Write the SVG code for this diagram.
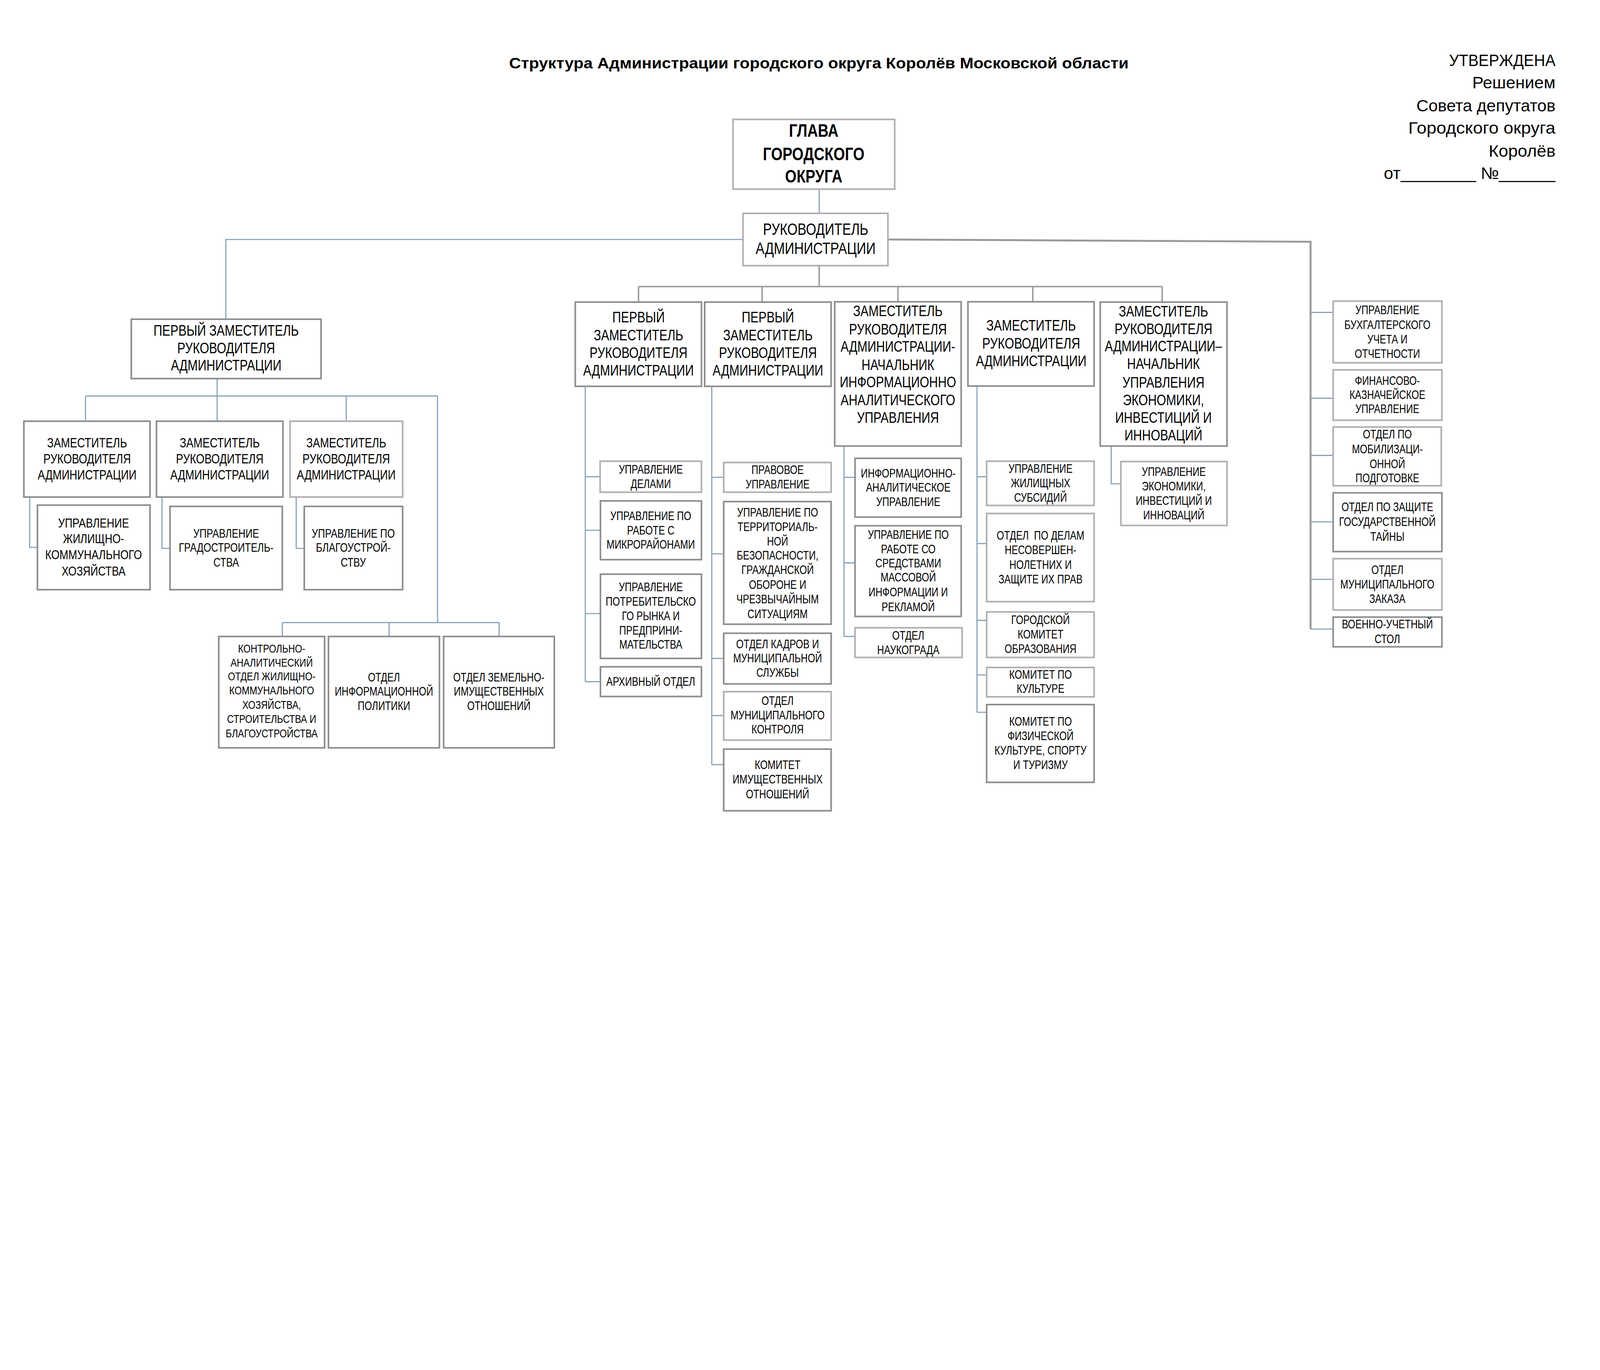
<svg xmlns="http://www.w3.org/2000/svg" width="4959" height="3506" viewBox="0 0 4959 3506" preserveAspectRatio="xMidYMin meet">
<style>
svg{width:100vw;height:100vh;display:block}
.bg{fill:#ffffff}
.bx{fill:#ffffff;stroke:#8e8e8e;stroke-width:5}
.bl{fill:#ffffff;stroke:#b3aeb1;stroke-width:5}
.c{fill:none;stroke:#87a0b9;stroke-width:3.5}
.g{fill:none;stroke:#9a9a9a;stroke-width:4.5}
.gt{fill:none;stroke:#9a9a9a;stroke-width:6}
text{font-family:"Liberation Sans",Arial,sans-serif;fill:#000000}
.t{text-anchor:middle}
.hd{font-weight:bold}
.appr{text-anchor:end;font-size:52px}
.f57{font-size:57px}
.f51{font-size:51px}
.f47{font-size:47px}
.f42{font-size:42px}
.f41{font-size:41px}
.f38{font-size:38px}
.f37{font-size:37px}
.f36{font-size:36px}
</style>
<rect class="bg" x="0" y="0" width="4959" height="3506"/>

<g id="header">
<text class="t hd" x="2538" y="212" font-size="47" textLength="1920" lengthAdjust="spacingAndGlyphs">Структура Администрации городского округа Королёв Московской области</text>
<text class="appr" x="4821" y="205" textLength="330" lengthAdjust="spacingAndGlyphs">УТВЕРЖДЕНА</text>
<text class="appr" x="4821" y="274" textLength="258" lengthAdjust="spacingAndGlyphs">Решением</text>
<text class="appr" x="4821" y="345" textLength="431" lengthAdjust="spacingAndGlyphs">Совета депутатов</text>
<text class="appr" x="4821" y="414" textLength="456" lengthAdjust="spacingAndGlyphs">Городского округа</text>
<text class="appr" x="4821" y="485" textLength="207" lengthAdjust="spacingAndGlyphs">Королёв</text>
<text class="appr" x="4821" y="554" textLength="532" lengthAdjust="spacingAndGlyphs">от________ №______</text>
</g>

<g id="connectors">
<path class="c" d="M2539 586V661"/>
<path class="c" d="M2303 742H700V989"/>
<path class="c" d="M673 1173V1227M265 1227H1356M265 1227V1305M673 1227V1305M1073 1227V1305M1356 1227V1929"/>
<path class="c" d="M92 1540V1696H116M502 1540V1699H527M918 1540V1699H943"/>
<path class="c" d="M875 1929H1547M875 1929V1972M1206 1929V1972M1547 1929V1972"/>
<path class="c" d="M1814 1197V2112M1814 1477H1860M1814 1643H1861M1814 1901H1861M1814 2112H1861"/>
<path class="c" d="M2206 1197V2369M2206 1479H2243M2206 1716H2243M2206 2040H2243M2206 2217H2243M2206 2369H2243"/>
<path class="c" d="M2616 1382V1972M2616 1479H2650M2616 1744H2650M2616 1972H2650"/>
<path class="c" d="M3028 1196V2207M3028 1477H3058M3028 1684H3058M3028 1922H3058M3028 2091H3058M3028 2207H3058"/>
<path class="c" d="M3444 1382V1499H3474"/>
<path class="c" d="M4062 968H4132M4062 1234H4132M4062 1411H4132M4062 1617H4132M4062 1795H4132M4062 1949H4132"/>
<path class="g" d="M2539 823V888M1979 888H3602M1979 888V936M2362 888V936M2783 888V935M3201 888V935M3602 888V936"/>
<path class="gt" d="M2752 742L4062 749V1949"/>
</g>

<g id="n-glava">
<rect class="bl" x="2272" y="370" width="501" height="216"/>
<text class="t hd f57" transform="matrix(0.8 0 0 1 504.4 0)"><tspan x="2522" y="424">ГЛАВА</tspan><tspan x="2522" y="496">ГОРОДСКОГО</tspan><tspan x="2522" y="565">ОКРУГА</tspan></text>
</g>

<g id="n-rukovoditel">
<rect class="bl" x="2303" y="661" width="449" height="162"/>
<text class="t f51" transform="matrix(0.8 0 0 1 505.6 0)"><tspan x="2528" y="728">РУКОВОДИТЕЛЬ</tspan><tspan x="2528" y="787">АДМИНИСТРАЦИИ</tspan></text>
</g>

<g id="n-perv-left">
<rect class="bx" x="407" y="989" width="588" height="184"/>
<text class="t f47" transform="matrix(0.8 0 0 1 140.2 0)"><tspan x="701" y="1040">ПЕРВЫЙ ЗАМЕСТИТЕЛЬ</tspan><tspan x="701" y="1094">РУКОВОДИТЕЛЯ</tspan><tspan x="701" y="1148">АДМИНИСТРАЦИИ</tspan></text>
</g>

<g id="n-zam-a">
<rect class="bx" x="74" y="1305" width="391" height="235"/>
<text class="t f42" transform="matrix(0.8 0 0 1 54 0)"><tspan x="270" y="1386">ЗАМЕСТИТЕЛЬ</tspan><tspan x="270" y="1436">РУКОВОДИТЕЛЯ</tspan><tspan x="270" y="1486">АДМИНИСТРАЦИИ</tspan></text>
</g>
<g id="n-zam-b">
<rect class="bx" x="485" y="1305" width="392" height="235"/>
<text class="t f42" transform="matrix(0.8 0 0 1 136.2 0)"><tspan x="681" y="1386">ЗАМЕСТИТЕЛЬ</tspan><tspan x="681" y="1436">РУКОВОДИТЕЛЯ</tspan><tspan x="681" y="1486">АДМИНИСТРАЦИИ</tspan></text>
</g>
<g id="n-zam-c">
<rect class="bl" x="899" y="1305" width="349" height="235"/>
<text class="t f42" transform="matrix(0.8 0 0 1 214.6 0)"><tspan x="1073" y="1386">ЗАМЕСТИТЕЛЬ</tspan><tspan x="1073" y="1436">РУКОВОДИТЕЛЯ</tspan><tspan x="1073" y="1486">АДМИНИСТРАЦИИ</tspan></text>
</g>

<g id="n-zhkh">
<rect class="bx" x="116" y="1565" width="349" height="262"/>
<text class="t f41" transform="matrix(0.8 0 0 1 58 0)"><tspan x="290" y="1634">УПРАВЛЕНИЕ</tspan><tspan x="290" y="1683">ЖИЛИЩНО-</tspan><tspan x="290" y="1733">КОММУНАЛЬНОГО</tspan><tspan x="290" y="1783">ХОЗЯЙСТВА</tspan></text>
</g>
<g id="n-grad">
<rect class="bx" x="527" y="1569" width="348" height="258"/>
<text class="t f38" transform="matrix(0.8 0 0 1 140.2 0)"><tspan x="701" y="1666">УПРАВЛЕНИЕ</tspan><tspan x="701" y="1710">ГРАДОСТРОИТЕЛЬ-</tspan><tspan x="701" y="1755">СТВА</tspan></text>
</g>
<g id="n-blag">
<rect class="bx" x="943" y="1569" width="305" height="258"/>
<text class="t f38" transform="matrix(0.8 0 0 1 219 0)"><tspan x="1095" y="1666">УПРАВЛЕНИЕ ПО</tspan><tspan x="1095" y="1710">БЛАГОУСТРОЙ-</tspan><tspan x="1095" y="1755">СТВУ</tspan></text>
</g>

<g id="n-kao">
<rect class="bx" x="678" y="1972" width="328" height="345"/>
<text class="t f36" transform="matrix(0.8 0 0 1 168.4 0)"><tspan x="842" y="2022">КОНТРОЛЬНО-</tspan><tspan x="842" y="2065">АНАЛИТИЧЕСКИЙ</tspan><tspan x="842" y="2108">ОТДЕЛ ЖИЛИЩНО-</tspan><tspan x="842" y="2152">КОММУНАЛЬНОГО</tspan><tspan x="842" y="2196">ХОЗЯЙСТВА,</tspan><tspan x="842" y="2240">СТРОИТЕЛЬСТВА И</tspan><tspan x="842" y="2285">БЛАГОУСТРОЙСТВА</tspan></text>
</g>
<g id="n-infpol">
<rect class="bx" x="1018" y="1972" width="344" height="345"/>
<text class="t f37" transform="matrix(0.8 0 0 1 238 0)"><tspan x="1190" y="2111">ОТДЕЛ</tspan><tspan x="1190" y="2155">ИНФОРМАЦИОННОЙ</tspan><tspan x="1190" y="2200">ПОЛИТИКИ</tspan></text>
</g>
<g id="n-zemim">
<rect class="bx" x="1375" y="1972" width="343" height="345"/>
<text class="t f37" transform="matrix(0.8 0 0 1 309.2 0)"><tspan x="1546" y="2111">ОТДЕЛ ЗЕМЕЛЬНО-</tspan><tspan x="1546" y="2155">ИМУЩЕСТВЕННЫХ</tspan><tspan x="1546" y="2200">ОТНОШЕНИЙ</tspan></text>
</g>

<g id="n-col1">
<rect class="bx" x="1783" y="936" width="391" height="261"/>
<text class="t f47" transform="matrix(0.8 0 0 1 395.8 0)"><tspan x="1979" y="999">ПЕРВЫЙ</tspan><tspan x="1979" y="1054">ЗАМЕСТИТЕЛЬ</tspan><tspan x="1979" y="1109">РУКОВОДИТЕЛЯ</tspan><tspan x="1979" y="1164">АДМИНИСТРАЦИИ</tspan></text>
</g>
<g id="n-dela">
<rect class="bl" x="1860" y="1429" width="314" height="96"/>
<text class="t f37" transform="matrix(0.8 0 0 1 403.4 0)"><tspan x="2017" y="1467">УПРАВЛЕНИЕ</tspan><tspan x="2017" y="1512">ДЕЛАМИ</tspan></text>
</g>
<g id="n-mikro">
<rect class="bx" x="1861" y="1552" width="313" height="182"/>
<text class="t f37" transform="matrix(0.8 0 0 1 403.4 0)"><tspan x="2017" y="1611">УПРАВЛЕНИЕ ПО</tspan><tspan x="2017" y="1656">РАБОТЕ С</tspan><tspan x="2017" y="1700">МИКРОРАЙОНАМИ</tspan></text>
</g>
<g id="n-potreb">
<rect class="bx" x="1861" y="1779" width="313" height="261"/>
<text class="t f37" transform="matrix(0.8 0 0 1 403.4 0)"><tspan x="2017" y="1832">УПРАВЛЕНИЕ</tspan><tspan x="2017" y="1877">ПОТРЕБИТЕЛЬСКО</tspan><tspan x="2017" y="1921">ГО РЫНКА И</tspan><tspan x="2017" y="1966">ПРЕДПРИНИ-</tspan><tspan x="2017" y="2010">МАТЕЛЬСТВА</tspan></text>
</g>
<g id="n-arhiv">
<rect class="bx" x="1861" y="2066" width="313" height="92"/>
<text class="t f37" transform="matrix(0.8 0 0 1 403.4 0)"><tspan x="2017" y="2125">АРХИВНЫЙ ОТДЕЛ</tspan></text>
</g>

<g id="n-col2">
<rect class="bx" x="2184" y="936" width="392" height="261"/>
<text class="t f47" transform="matrix(0.8 0 0 1 476 0)"><tspan x="2380" y="999">ПЕРВЫЙ</tspan><tspan x="2380" y="1054">ЗАМЕСТИТЕЛЬ</tspan><tspan x="2380" y="1109">РУКОВОДИТЕЛЯ</tspan><tspan x="2380" y="1164">АДМИНИСТРАЦИИ</tspan></text>
</g>
<g id="n-pravo">
<rect class="bl" x="2243" y="1433" width="333" height="92"/>
<text class="t f37" transform="matrix(0.8 0 0 1 482 0)"><tspan x="2410" y="1469">ПРАВОВОЕ</tspan><tspan x="2410" y="1513">УПРАВЛЕНИЕ</tspan></text>
</g>
<g id="n-terr">
<rect class="bx" x="2243" y="1554" width="333" height="380"/>
<text class="t f37" transform="matrix(0.8 0 0 1 482 0)"><tspan x="2410" y="1600">УПРАВЛЕНИЕ ПО</tspan><tspan x="2410" y="1645">ТЕРРИТОРИАЛЬ-</tspan><tspan x="2410" y="1690">НОЙ</tspan><tspan x="2410" y="1734">БЕЗОПАСНОСТИ,</tspan><tspan x="2410" y="1779">ГРАЖДАНСКОЙ</tspan><tspan x="2410" y="1824">ОБОРОНЕ И</tspan><tspan x="2410" y="1869">ЧРЕЗВЫЧАЙНЫМ</tspan><tspan x="2410" y="1915">СИТУАЦИЯМ</tspan></text>
</g>
<g id="n-kadry">
<rect class="bx" x="2243" y="1962" width="333" height="157"/>
<text class="t f37" transform="matrix(0.8 0 0 1 482 0)"><tspan x="2410" y="2008">ОТДЕЛ КАДРОВ И</tspan><tspan x="2410" y="2052">МУНИЦИПАЛЬНОЙ</tspan><tspan x="2410" y="2097">СЛУЖБЫ</tspan></text>
</g>
<g id="n-munkontr">
<rect class="bl" x="2243" y="2143" width="333" height="150"/>
<text class="t f37" transform="matrix(0.8 0 0 1 482 0)"><tspan x="2410" y="2184">ОТДЕЛ</tspan><tspan x="2410" y="2229">МУНИЦИПАЛЬНОГО</tspan><tspan x="2410" y="2273">КОНТРОЛЯ</tspan></text>
</g>
<g id="n-imush">
<rect class="bx" x="2243" y="2321" width="333" height="191"/>
<text class="t f37" transform="matrix(0.8 0 0 1 482 0)"><tspan x="2410" y="2383">КОМИТЕТ</tspan><tspan x="2410" y="2428">ИМУЩЕСТВЕННЫХ</tspan><tspan x="2410" y="2473">ОТНОШЕНИЙ</tspan></text>
</g>

<g id="n-col3">
<rect class="bx" x="2587" y="935" width="392" height="447"/>
<text class="t f47" transform="matrix(0.8 0 0 1 556.6 0)"><tspan x="2783" y="980">ЗАМЕСТИТЕЛЬ</tspan><tspan x="2783" y="1036">РУКОВОДИТЕЛЯ</tspan><tspan x="2783" y="1090">АДМИНИСТРАЦИИ-</tspan><tspan x="2783" y="1146">НАЧАЛЬНИК</tspan><tspan x="2783" y="1200">ИНФОРМАЦИОННО</tspan><tspan x="2783" y="1255">АНАЛИТИЧЕСКОГО</tspan><tspan x="2783" y="1310">УПРАВЛЕНИЯ</tspan></text>
</g>
<g id="n-infan">
<rect class="bx" x="2650" y="1420" width="329" height="182"/>
<text class="t f37" transform="matrix(0.8 0 0 1 563 0)"><tspan x="2815" y="1479">ИНФОРМАЦИОННО-</tspan><tspan x="2815" y="1523">АНАЛИТИЧЕСКОЕ</tspan><tspan x="2815" y="1568">УПРАВЛЕНИЕ</tspan></text>
</g>
<g id="n-smi">
<rect class="bx" x="2650" y="1629" width="329" height="281"/>
<text class="t f37" transform="matrix(0.8 0 0 1 563 0)"><tspan x="2815" y="1670">УПРАВЛЕНИЕ ПО</tspan><tspan x="2815" y="1714">РАБОТЕ СО</tspan><tspan x="2815" y="1758">СРЕДСТВАМИ</tspan><tspan x="2815" y="1802">МАССОВОЙ</tspan><tspan x="2815" y="1847">ИНФОРМАЦИИ И</tspan><tspan x="2815" y="1894">РЕКЛАМОЙ</tspan></text>
</g>
<g id="n-naukograd">
<rect class="bl" x="2650" y="1945" width="332" height="92"/>
<text class="t f37" transform="matrix(0.8 0 0 1 563 0)"><tspan x="2815" y="1982">ОТДЕЛ</tspan><tspan x="2815" y="2027">НАУКОГРАДА</tspan></text>
</g>

<g id="n-col4">
<rect class="bx" x="3000" y="935" width="391" height="261"/>
<text class="t f47" transform="matrix(0.8 0 0 1 639.2 0)"><tspan x="3196" y="1024">ЗАМЕСТИТЕЛЬ</tspan><tspan x="3196" y="1080">РУКОВОДИТЕЛЯ</tspan><tspan x="3196" y="1135">АДМИНИСТРАЦИИ</tspan></text>
</g>
<g id="n-subs">
<rect class="bl" x="3058" y="1429" width="333" height="137"/>
<text class="t f37" transform="matrix(0.8 0 0 1 645 0)"><tspan x="3225" y="1465">УПРАВЛЕНИЕ</tspan><tspan x="3225" y="1510">ЖИЛИЩНЫХ</tspan><tspan x="3225" y="1555">СУБСИДИЙ</tspan></text>
</g>
<g id="n-nesov">
<rect class="bl" x="3058" y="1591" width="333" height="273"/>
<text class="t f37" transform="matrix(0.8 0 0 1 645 0)"><tspan x="3225" y="1672">ОТДЕЛ&#160; ПО ДЕЛАМ</tspan><tspan x="3225" y="1717">НЕСОВЕРШЕН-</tspan><tspan x="3225" y="1763">НОЛЕТНИХ И</tspan><tspan x="3225" y="1807">ЗАЩИТЕ ИХ ПРАВ</tspan></text>
</g>
<g id="n-obraz">
<rect class="bl" x="3058" y="1896" width="333" height="141"/>
<text class="t f37" transform="matrix(0.8 0 0 1 645 0)"><tspan x="3225" y="1933">ГОРОДСКОЙ</tspan><tspan x="3225" y="1978">КОМИТЕТ</tspan><tspan x="3225" y="2023">ОБРАЗОВАНИЯ</tspan></text>
</g>
<g id="n-kult">
<rect class="bl" x="3058" y="2068" width="333" height="91"/>
<text class="t f37" transform="matrix(0.8 0 0 1 645 0)"><tspan x="3225" y="2103">КОМИТЕТ ПО</tspan><tspan x="3225" y="2147">КУЛЬТУРЕ</tspan></text>
</g>
<g id="n-sport">
<rect class="bx" x="3058" y="2183" width="333" height="241"/>
<text class="t f37" transform="matrix(0.8 0 0 1 645 0)"><tspan x="3225" y="2248">КОМИТЕТ ПО</tspan><tspan x="3225" y="2293">ФИЗИЧЕСКОЙ</tspan><tspan x="3225" y="2338">КУЛЬТУРЕ, СПОРТУ</tspan><tspan x="3225" y="2383">И ТУРИЗМУ</tspan></text>
</g>

<g id="n-col5">
<rect class="bx" x="3410" y="936" width="393" height="446"/>
<text class="t f47" transform="matrix(0.8 0 0 1 721.2 0)"><tspan x="3606" y="981">ЗАМЕСТИТЕЛЬ</tspan><tspan x="3606" y="1035">РУКОВОДИТЕЛЯ</tspan><tspan x="3606" y="1089">АДМИНИСТРАЦИИ–</tspan><tspan x="3606" y="1143">НАЧАЛЬНИК</tspan><tspan x="3606" y="1201">УПРАВЛЕНИЯ</tspan><tspan x="3606" y="1255">ЭКОНОМИКИ,</tspan><tspan x="3606" y="1310">ИНВЕСТИЦИЙ И</tspan><tspan x="3606" y="1365">ИННОВАЦИЙ</tspan></text>
</g>
<g id="n-econ">
<rect class="bl" x="3474" y="1430" width="329" height="198"/>
<text class="t f37" transform="matrix(0.8 0 0 1 727.6 0)"><tspan x="3638" y="1475">УПРАВЛЕНИЕ</tspan><tspan x="3638" y="1520">ЭКОНОМИКИ,</tspan><tspan x="3638" y="1564">ИНВЕСТИЦИЙ И</tspan><tspan x="3638" y="1609">ИННОВАЦИЙ</tspan></text>
</g>

<g id="n-buh">
<rect class="bl" x="4132" y="933" width="337" height="191"/>
<text class="t f37" transform="matrix(0.8 0 0 1 860 0)"><tspan x="4300" y="973">УПРАВЛЕНИЕ</tspan><tspan x="4300" y="1019">БУХГАЛТЕРСКОГО</tspan><tspan x="4300" y="1064">УЧЕТА И</tspan><tspan x="4300" y="1109">ОТЧЕТНОСТИ</tspan></text>
</g>
<g id="n-fin">
<rect class="bl" x="4132" y="1146" width="337" height="156"/>
<text class="t f37" transform="matrix(0.8 0 0 1 860 0)"><tspan x="4300" y="1192">ФИНАНСОВО-</tspan><tspan x="4300" y="1236">КАЗНАЧЕЙСКОЕ</tspan><tspan x="4300" y="1280">УПРАВЛЕНИЕ</tspan></text>
</g>
<g id="n-mob">
<rect class="bl" x="4132" y="1323" width="335" height="182"/>
<text class="t f37" transform="matrix(0.8 0 0 1 860 0)"><tspan x="4300" y="1358">ОТДЕЛ ПО</tspan><tspan x="4300" y="1405">МОБИЛИЗАЦИ-</tspan><tspan x="4300" y="1450">ОННОЙ</tspan><tspan x="4300" y="1494">ПОДГОТОВКЕ</tspan></text>
</g>
<g id="n-gostaina">
<rect class="bx" x="4132" y="1527" width="337" height="182"/>
<text class="t f37" transform="matrix(0.8 0 0 1 860 0)"><tspan x="4300" y="1584">ОТДЕЛ ПО ЗАЩИТЕ</tspan><tspan x="4300" y="1630">ГОСУДАРСТВЕННОЙ</tspan><tspan x="4300" y="1675">ТАЙНЫ</tspan></text>
</g>
<g id="n-munzakaz">
<rect class="bl" x="4132" y="1731" width="337" height="159"/>
<text class="t f37" transform="matrix(0.8 0 0 1 860 0)"><tspan x="4300" y="1779">ОТДЕЛ</tspan><tspan x="4300" y="1823">МУНИЦИПАЛЬНОГО</tspan><tspan x="4300" y="1868">ЗАКАЗА</tspan></text>
</g>
<g id="n-voen">
<rect class="bx" x="4132" y="1912" width="337" height="92"/>
<text class="t f37" transform="matrix(0.8 0 0 1 860 0)"><tspan x="4300" y="1947">ВОЕННО-УЧЕТНЫЙ</tspan><tspan x="4300" y="1993">СТОЛ</tspan></text>
</g>
</svg>
